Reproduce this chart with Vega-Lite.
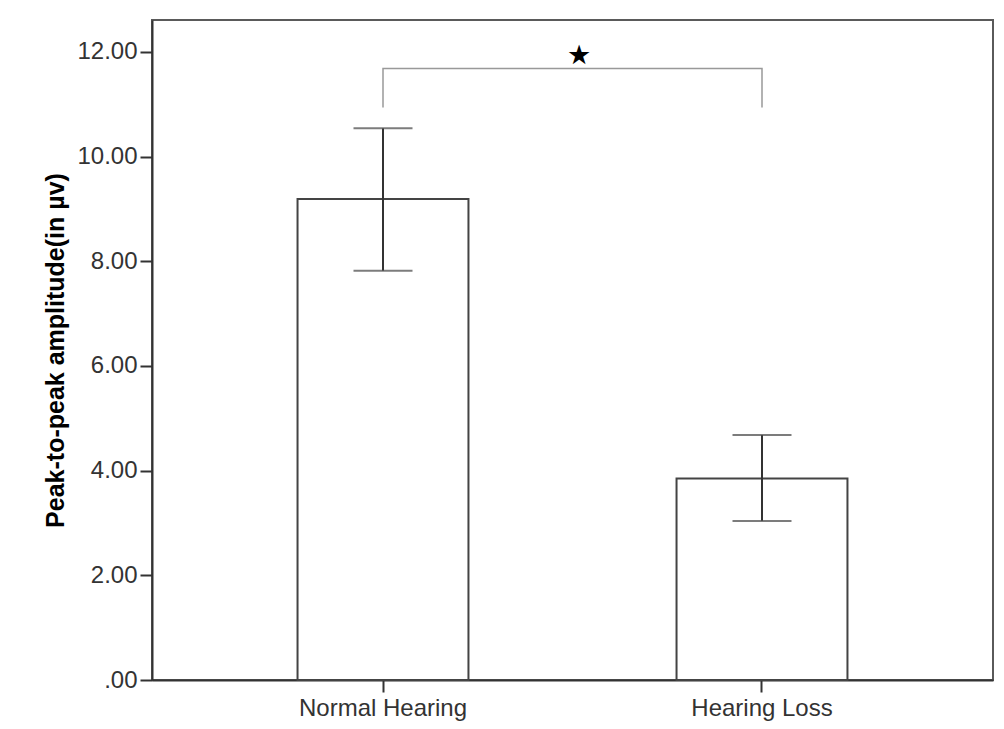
{
  "$schema": "https://vega.github.io/schema/vega-lite/v6.json",
  "width": 841,
  "height": 660,
  "autosize": "none",
  "padding": {"left": 152, "top": 20, "right": 11, "bottom": 49},
  "background": "white",
  "config": {
    "font": "Liberation Sans",
    "view": {"stroke": "#5a5a5a", "strokeWidth": 2}
  },
  "datasets": {
    "groups": [
      {"group": "Normal Hearing", "mean": 9.19, "lo": 7.82, "hi": 10.54},
      {"group": "Hearing Loss", "mean": 3.85, "lo": 3.04, "hi": 4.68}
    ],
    "bracket": [
      {"group": "Normal Hearing", "step": 1, "level": 10.94},
      {"group": "Normal Hearing", "step": 2, "level": 11.685},
      {"group": "Hearing Loss", "step": 3, "level": 11.685},
      {"group": "Hearing Loss", "step": 4, "level": 10.94}
    ],
    "marker": [
      {"group": "Normal Hearing", "level": 11.93, "label": "★"}
    ]
  },
  "encoding": {
    "x": {
      "field": "group",
      "type": "nominal",
      "sort": ["Normal Hearing", "Hearing Loss"],
      "scale": {"domain": ["Normal Hearing", "Hearing Loss"], "paddingInner": 0.549, "paddingOuter": 0.384},
      "axis": {
        "title": null,
        "labelAngle": 0,
        "labelFontSize": 24,
        "labelColor": "#333333",
        "labelPadding": 4,
        "tickSize": 12,
        "tickWidth": 2,
        "tickColor": "#333333",
        "domainColor": "#333333",
        "domainWidth": 2
      }
    }
  },
  "layer": [
    {
      "data": {"name": "groups"},
      "mark": {"type": "bar", "fill": "white", "stroke": "#444444", "strokeWidth": 2},
      "encoding": {
        "y": {
          "field": "mean",
          "type": "quantitative",
          "scale": {"domain": [0, 12.61], "nice": false, "zero": true},
          "axis": {
            "title": "Peak-to-peak amplitude(in µv)",
            "titleFontSize": 25,
            "titleFontWeight": "bold",
            "titleColor": "#000000",
            "titlePadding": 8,
            "values": [0, 2, 4, 6, 8, 10, 12],
            "labelExpr": "datum.value == 0 ? '.00' : format(datum.value, '.2f')",
            "labelFontSize": 24,
            "labelColor": "#333333",
            "labelPadding": 3,
            "tickSize": 12,
            "tickWidth": 2,
            "tickColor": "#333333",
            "domainColor": "#333333",
            "domainWidth": 2,
            "grid": false
          }
        }
      }
    },
    {
      "data": {"name": "groups"},
      "mark": {"type": "rule", "color": "#333333", "strokeWidth": 2},
      "encoding": {
        "y": {"field": "lo", "type": "quantitative"},
        "y2": {"field": "hi"}
      }
    },
    {
      "data": {"name": "groups"},
      "mark": {"type": "tick", "color": "#444444", "size": 59, "thickness": 2},
      "encoding": {"y": {"field": "hi", "type": "quantitative"}}
    },
    {
      "data": {"name": "groups"},
      "mark": {"type": "tick", "color": "#444444", "size": 59, "thickness": 2},
      "encoding": {"y": {"field": "lo", "type": "quantitative"}}
    },
    {
      "data": {"name": "bracket"},
      "mark": {"type": "line", "color": "#999999", "strokeWidth": 1.5},
      "encoding": {
        "y": {"field": "level", "type": "quantitative"},
        "order": {"field": "step", "type": "quantitative"}
      }
    },
    {
      "data": {"name": "marker"},
      "mark": {"type": "text", "font": "DejaVu Sans", "fontSize": 27, "color": "#000000", "dx": 196, "baseline": "middle"},
      "encoding": {
        "y": {"field": "level", "type": "quantitative"},
        "text": {"field": "label"}
      }
    }
  ]
}
